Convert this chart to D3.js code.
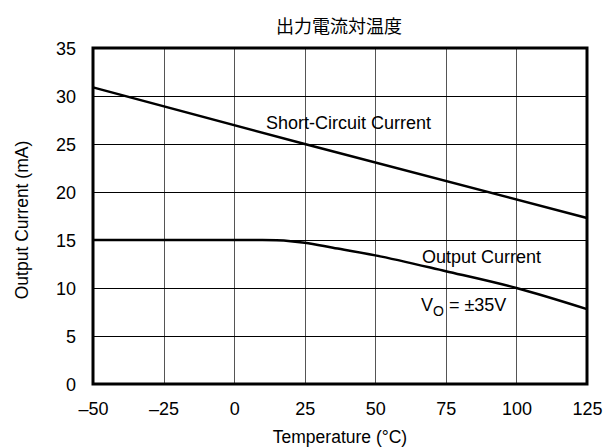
<!DOCTYPE html>
<html><head><meta charset="utf-8">
<script src="https://cdn.jsdelivr.net/npm/d3@7"></script>
<style>
body{margin:0;background:#fff}
text{font-family:"Liberation Sans",Arial,sans-serif;fill:#000}
</style></head>
<body><svg id="c" width="609" height="448"></svg>
<script>
// Temperature ticks (°C) and current ticks (mA)
const xTicks = [-50, -25, 0, 25, 50, 75, 100, 125];
const yTicks = [0, 5, 10, 15, 20, 25, 30, 35];
const xTickLabels = ["\u201350", "\u201325", "0", "25", "50", "75", "100", "125"];

// Short-circuit current vs temperature
const shortTemp = [-50, 25, 125];
const shortCurrent = [30.9, 25, 17.3];

// Output current vs temperature (VO = ±35V)
const outTemp = [-50, 10, 15, 20, 25, 35, 50, 75, 100, 125];
const outCurrent = [15, 15, 14.97, 14.88, 14.72, 14.2, 13.4, 11.75, 10, 7.8];

const FS = 18;
const svg = d3.select("#c");
const L = 93, R = 587, T = 48, B = 384;
const x = d3.scaleLinear().domain([-50, 125]).range([L, R]);
const y = d3.scaleLinear().domain([0, 35]).range([B, T]);

// grid
svg.append("g").selectAll("line").data(xTicks.slice(1, -1)).join("line")
  .attr("x1", d => Math.round(x(d)) + 0.5).attr("x2", d => Math.round(x(d)) + 0.5)
  .attr("y1", T).attr("y2", B).attr("stroke", "#555").attr("stroke-width", 1);
svg.append("g").selectAll("line").data(yTicks.slice(1, -1)).join("line")
  .attr("y1", d => Math.round(y(d)) + 0.5).attr("y2", d => Math.round(y(d)) + 0.5)
  .attr("x1", L).attr("x2", R).attr("stroke", "#000").attr("stroke-width", 1);

// axes (labels only)
const xAxis = d3.axisBottom(x).tickValues(xTicks).tickSize(0).tickPadding(0)
  .tickFormat((d, i) => xTickLabels[i]);
const gx = svg.append("g").attr("transform", `translate(0,${B})`).call(xAxis);
gx.select(".domain").remove();
gx.selectAll("text").attr("font-size", FS).attr("dy", null).attr("y", 31)
  .style("font-family", '"Liberation Sans",Arial,sans-serif');

const yAxis = d3.axisLeft(y).tickValues(yTicks).tickSize(0).tickPadding(0);
const gy = svg.append("g").attr("transform", `translate(${L - 17},0)`).call(yAxis);
gy.select(".domain").remove();
gy.selectAll("text").attr("font-size", FS).attr("dy", "0.35em")
  .style("font-family", '"Liberation Sans",Arial,sans-serif');

// curves
const line = d3.line().x(d => x(d[0])).y(d => y(d[1]));
const lineCurve = d3.line().x(d => x(d[0])).y(d => y(d[1])).curve(d3.curveMonotoneX);
svg.append("path").datum(shortTemp.map((t, i) => [t, shortCurrent[i]]))
  .attr("d", line).attr("fill", "none").attr("stroke", "#000").attr("stroke-width", 2.5);
svg.append("path").datum(outTemp.map((t, i) => [t, outCurrent[i]]))
  .attr("d", lineCurve).attr("fill", "none").attr("stroke", "#000").attr("stroke-width", 2.5);

// frame
svg.append("rect").attr("x", L).attr("y", T).attr("width", R - L).attr("height", B - T)
  .attr("fill", "none").attr("stroke", "#000").attr("stroke-width", 3);

// titles
svg.append("text").attr("x", 339).attr("y", 33).attr("text-anchor", "middle")
  .attr("font-size", FS).style("font-family", '"Noto Sans CJK JP",sans-serif').text("出力電流対温度");
svg.append("text").attr("x", 340).attr("y", 443).attr("text-anchor", "middle")
  .attr("font-size", 17.5).text("Temperature (°C)");
svg.append("text").attr("transform", "translate(28,220) rotate(-90)").attr("text-anchor", "middle")
  .attr("font-size", 17.5).text("Output Current (mA)");

// annotations
svg.append("text").attr("x", 266).attr("y", 129).attr("font-size", FS).text("Short-Circuit Current");
svg.append("text").attr("x", 422).attr("y", 263).attr("font-size", FS).text("Output Current");
const vo = svg.append("text").attr("x", 421).attr("y", 311).attr("font-size", FS);
vo.append("tspan").text("V");
vo.append("tspan").attr("font-size", 14).attr("dy", 5).text("O");
vo.append("tspan").attr("dy", -5).text(" = ±35V");
</script></body></html>
